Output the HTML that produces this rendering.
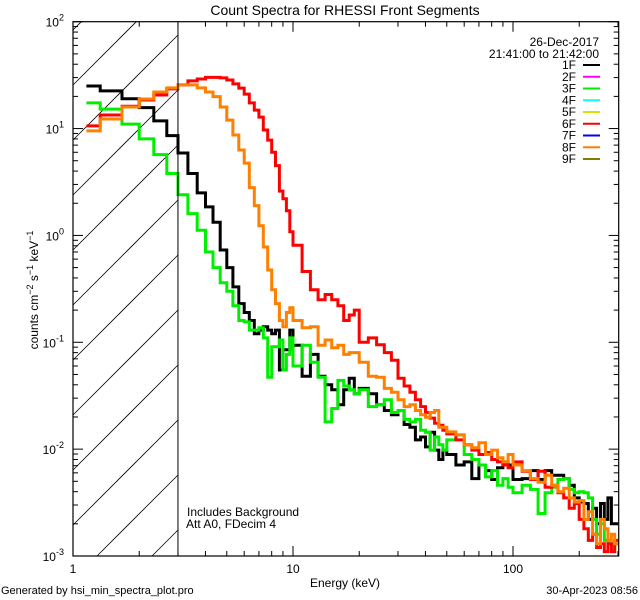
<!DOCTYPE html>
<html><head><meta charset="utf-8"><style>
html,body{margin:0;padding:0;background:#fff;width:640px;height:600px;overflow:hidden;}
svg{display:block;font-family:"Liberation Sans",sans-serif;}
</style></head><body>
<svg id="chart" width="640" height="600" viewBox="0 0 640 600" xmlns="http://www.w3.org/2000/svg">
<defs><clipPath id="plotclip"><rect x="73" y="21.7" width="545.7" height="534.3"/></clipPath></defs>
<rect width="640" height="600" fill="#fff"/>
<text x="345" y="15" font-size="14" text-anchor="middle">Count Spectra for RHESSI Front Segments</text>
<g id="hatch"></g>
<g id="series" clip-path="url(#plotclip)"></g>
<g id="axes"></g>
<text transform="translate(38,290) rotate(-90)" font-size="12" text-anchor="middle">counts cm<tspan dy="-5" font-size="9">−2</tspan><tspan dy="5"> s</tspan><tspan dy="-5" font-size="9">−1</tspan><tspan dy="5"> keV</tspan><tspan dy="-5" font-size="9">−1</tspan></text>
<text x="345" y="587" font-size="12" text-anchor="middle">Energy (keV)</text>
<text x="1" y="594" font-size="11">Generated by hsi_min_spectra_plot.pro</text>
<text x="638" y="594" font-size="11" text-anchor="end">30-Apr-2023 08:56</text>
<text x="187" y="516" font-size="12">Includes Background</text>
<text x="186" y="528" font-size="12">Att A0, FDecim 4</text>
<text x="599" y="46" font-size="12" text-anchor="end">26-Dec-2017</text>
<text x="599" y="58" font-size="12" text-anchor="end">21:41:00 to 21:42:00</text>
<g id="legend"></g>
</svg>
<script>
const energyEdges=[1.15,1.33,1.67,2,2.33,2.67,3,3.33,3.67,4,4.33,4.67,5,5.33,5.67,6,6.33,6.67,7,7.33,7.67,8,8.33,8.67,9,9.33,9.67,10,11,12,13,14,15,16,17,18,19,20,22,24,26,28,30,32,34,36,38,40,42,44,46,48,50,55,60,65,70,75,80,85,90,95,100,110,120,130,140,150,160,170,180,190,200,210,220,230,240,250,260,270,280,290,300];
const seg1F=[25,22.5,19,15.7,11.8,8.6,5.9,3.8,2.5,1.85,1.33,0.73,0.5,0.33,0.23,0.19,0.16,0.12,0.13,0.14,0.13,0.12,0.13,0.055,0.085,0.085,0.13,0.094,0.048,0.077,0.048,0.04,0.036,0.026,0.036,0.046,0.033,0.037,0.033,0.026,0.023,0.021,0.023,0.017,0.016,0.0122,0.013,0.0105,0.0144,0.0098,0.008,0.0098,0.0089,0.0071,0.0076,0.0053,0.0071,0.0063,0.0052,0.0067,0.0076,0.0071,0.0052,0.0053,0.0063,0.0052,0.0063,0.0057,0.0057,0.0053,0.0046,0.0035,0.0032,0.0031,0.0022,0.0028,0.002,0.0031,0.0022,0.0035,0.002,0.002];
const seg3F=[17.4,15.2,11,8,5.7,3.8,2.4,1.6,1.12,0.7,0.5,0.36,0.3,0.22,0.16,0.155,0.13,0.13,0.137,0.11,0.047,0.091,0.091,0.105,0.055,0.077,0.11,0.06,0.094,0.065,0.047,0.018,0.024,0.044,0.039,0.036,0.033,0.036,0.025,0.026,0.029,0.022,0.023,0.019,0.018,0.019,0.015,0.0144,0.0098,0.013,0.011,0.0098,0.0122,0.0136,0.0089,0.008,0.0071,0.0055,0.0063,0.0046,0.0053,0.0044,0.0039,0.0046,0.0042,0.0025,0.0039,0.0044,0.0052,0.0053,0.0042,0.0039,0.004,0.0039,0.0035,0.0022,0.0016,0.002,0.0014,0.0013,0.0011,0.0013];
const seg6F=[10.6,13.4,16.2,18.5,20.6,23.5,25.6,27.9,29.1,30.1,30.1,29.8,28.5,26.2,23.9,21,17.4,14.9,12.8,9.7,7.8,6,4.5,2.6,2.2,1.7,1.08,0.81,0.46,0.31,0.25,0.28,0.25,0.22,0.16,0.18,0.2,0.1,0.11,0.095,0.08,0.068,0.046,0.039,0.034,0.029,0.025,0.022,0.0195,0.0175,0.0167,0.015,0.0139,0.0122,0.011,0.0098,0.0089,0.0093,0.008,0.0076,0.0071,0.0067,0.0076,0.0062,0.0052,0.0062,0.0044,0.0046,0.0039,0.0035,0.0028,0.0031,0.0022,0.0018,0.0014,0.0016,0.0012,0.0013,0.0011,0.0013,0.0011,0.0014];
const seg8F=[9.5,12.3,15.9,18.9,22,24,25.6,25.6,24,22,19.9,15.9,12,8.7,6.3,4.75,2.8,1.9,1.23,0.78,0.475,0.31,0.23,0.16,0.14,0.19,0.21,0.16,0.137,0.14,0.094,0.105,0.089,0.094,0.077,0.08,0.08,0.065,0.048,0.047,0.037,0.034,0.029,0.025,0.026,0.023,0.021,0.0199,0.022,0.023,0.016,0.016,0.0145,0.0136,0.011,0.0103,0.0115,0.0089,0.0098,0.0083,0.0076,0.0089,0.0071,0.0063,0.0053,0.0049,0.0057,0.0046,0.004,0.0043,0.0035,0.0032,0.0033,0.0022,0.0026,0.0016,0.0013,0.0022,0.0018,0.0014,0.0016,0.0013];
const legendLabels=["1F","2F","3F","4F","5F","6F","7F","8F","9F"];
const legendColors=["#000000","#ff00ff","#00ee00","#00ffff","#dddd00","#ff0000","#0000ff","#ff8000","#808000"];
const yTickExps=[-3,-2,-1,0,1,2];
const xTickLabels=["1","10","100"];

const NS="http://www.w3.org/2000/svg";
const X0=73,X1=618.7,Y0=21.7,Y1=556;
const xMin=1,xMax=Math.pow(10,(X1-X0)/220);
function xs(e){return X0+(Math.log10(e)-Math.log10(xMin))/(Math.log10(xMax)-Math.log10(xMin))*(X1-X0);}
function ys(v){return Y0+(2-Math.log10(v))/5*(Y1-Y0);}
function mk(tag,attrs,parent){const el=document.createElementNS(NS,tag);for(const k in attrs)el.setAttribute(k,attrs[k]);parent.appendChild(el);return el;}

// hatch: 45deg lines y = c - (x - X0), clipped analytically to [X0,XH]x[Y0,Y1]
const hatch=document.getElementById('hatch');
const XH=xs(3);
for(let c=85-55*2;c<Y1+(XH-X0);c+=55){
  let xa=X0,ya=c;
  if(ya>Y1){xa=X0+(ya-Y1);ya=Y1;}
  let xb=XH,yb=c-(XH-X0);
  if(yb<Y0){xb=X0+(c-Y0);yb=Y0;}
  if(xa>=xb)continue;
  const l=mk('line',{x1:xa.toFixed(1),y1:ya.toFixed(1),x2:xb.toFixed(1),y2:yb.toFixed(1),stroke:'#000','stroke-width':0.8},hatch);
  
  
}
// series
const seriesG=document.getElementById('series');
const seriesList=[[seg1F,"#000000","series-1f"],[seg3F,"#00ee00","series-3f"],[seg6F,"#ff0000","series-6f"],[seg8F,"#ff8000","series-8f"]];
seriesList.forEach(([vals,col,name])=>{
  let d="";
  vals.forEach((v,i)=>{
    const xa=xs(energyEdges[i]),xb=xs(energyEdges[i+1]),y=Math.min(Y1,ys(v));
    d+=(i===0?"M":"L")+xa.toFixed(1)+","+y.toFixed(1)+"L"+xb.toFixed(1)+","+y.toFixed(1);
  });
  const p=mk('path',{d:d,fill:'none',stroke:col,'stroke-width':3,'stroke-linejoin':'miter'},seriesG);
  
  
});
// axes
const ax=document.getElementById('axes');
const box=mk('rect',{x:X0,y:Y0,width:X1-X0,height:Y1-Y0,fill:'none',stroke:'#000','stroke-width':1.2},ax);


const vline=mk('line',{x1:XH,y1:Y0,x2:XH,y2:Y1,stroke:'#000','stroke-width':1},ax);


yTickExps.forEach(k=>{
  const y=ys(Math.pow(10,k));
  mk('line',{x1:X0,y1:y,x2:X0+10,y2:y,stroke:'#000'},ax);
  mk('line',{x1:X1,y1:y,x2:X1-10,y2:y,stroke:'#000'},ax);
  const t=mk('text',{x:64,y:y+5,'font-size':12,'text-anchor':'end'},ax);
  
  
  t.innerHTML='10<tspan dy="-6" font-size="9">'+k+'</tspan>';
  if(k<2)for(let m=2;m<10;m++){
    const ym=ys(m*Math.pow(10,k));
    mk('line',{x1:X0,y1:ym,x2:X0+5,y2:ym,stroke:'#000'},ax);
    mk('line',{x1:X1,y1:ym,x2:X1-5,y2:ym,stroke:'#000'},ax);
  }
});
for(let k=0;k<3;k++){
  for(let m=1;m<10;m++){
    const e=m*Math.pow(10,k);
    if(e>xMax)break;
    const x=xs(e),len=m===1?10:5;
    mk('line',{x1:x,y1:Y1,x2:x,y2:Y1-len,stroke:'#000'},ax);
    mk('line',{x1:x,y1:Y0,x2:x,y2:Y0+len,stroke:'#000'},ax);
  }
  const t=mk('text',{x:xs(Math.pow(10,k)),y:573,'font-size':12,'text-anchor':'middle'},ax);
  
  
  t.textContent=xTickLabels[k];
}
// legend
const lg=document.getElementById('legend');
legendLabels.forEach((lab,i)=>{
  const y=65+i*11.75;
  const t=mk('text',{x:576,y:y+4,'font-size':12,'text-anchor':'end'},lg);
  
  
  t.textContent=lab;
  const l=mk('line',{x1:583,y1:y,x2:600,y2:y,stroke:legendColors[i],'stroke-width':2},lg);
  
  
});
</script>
</body></html>
